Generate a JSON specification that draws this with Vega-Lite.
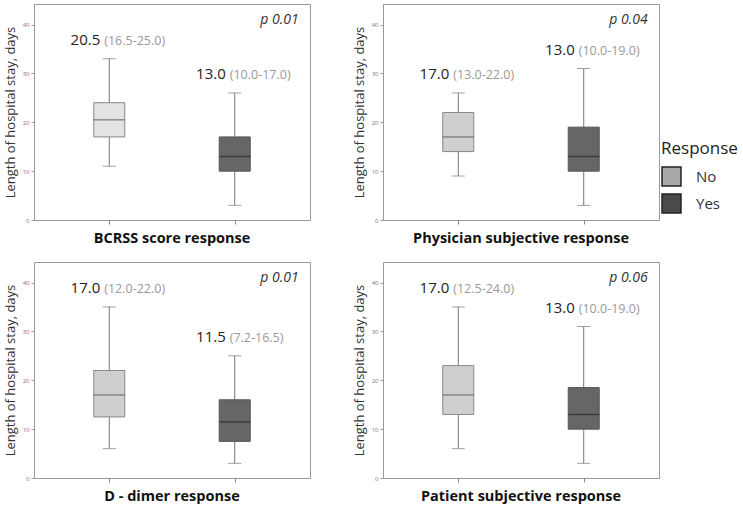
{
  "$schema": "https://vega.github.io/schema/vega-lite/v6.json",
  "padding": {"left": 3, "top": 3, "right": 5, "bottom": 5},
  "background": "white",
  "config": {
    "view": {"stroke": "#999", "strokeWidth": 1},
    "font": "Open Sans"
  },
  "data": {
    "values": [
      {"panel": "BCRSS score response", "Response": "No", "low": 11, "q1": 17, "median": 20.5, "q3": 24, "high": 33, "iqr": "(16.5-25.0)", "p": "p 0.01"},
      {"panel": "BCRSS score response", "Response": "Yes", "low": 3, "q1": 10, "median": 13, "q3": 17, "high": 26, "iqr": "(10.0-17.0)", "p": "p 0.01"},
      {"panel": "Physician subjective response", "Response": "No", "low": 9, "q1": 14, "median": 17, "q3": 22, "high": 26, "iqr": "(13.0-22.0)", "p": "p 0.04"},
      {"panel": "Physician subjective response", "Response": "Yes", "low": 3, "q1": 10, "median": 13, "q3": 19, "high": 31, "iqr": "(10.0-19.0)", "p": "p 0.04"},
      {"panel": "D - dimer response", "Response": "No", "low": 6, "q1": 12.5, "median": 17, "q3": 22, "high": 35, "iqr": "(12.0-22.0)", "p": "p 0.01"},
      {"panel": "D - dimer response", "Response": "Yes", "low": 3, "q1": 7.5, "median": 11.5, "q3": 16, "high": 25, "iqr": "(7.2-16.5)", "p": "p 0.01"},
      {"panel": "Patient subjective response", "Response": "No", "low": 6, "q1": 13, "median": 17, "q3": 23, "high": 35, "iqr": "(12.5-24.0)", "p": "p 0.06"},
      {"panel": "Patient subjective response", "Response": "Yes", "low": 3, "q1": 10, "median": 13, "q3": 18.5, "high": 31, "iqr": "(10.0-19.0)", "p": "p 0.06"}
    ]
  },
  "facet": {
    "field": "panel",
    "type": "nominal",
    "sort": ["BCRSS score response", "Physician subjective response", "D - dimer response", "Patient subjective response"],
    "header": {
      "title": null,
      "labelOrient": "bottom",
      "labelFont": "Open Sans",
      "labelFontSize": 14.5,
      "labelFontWeight": "bold",
      "labelColor": "#111",
      "labelPadding": 7
    }
  },
  "columns": 2,
  "spacing": {"row": 15, "column": 41},
  "resolve": {"axis": {"x": "independent", "y": "independent"}},
  "spec": {
    "width": 276,
    "height": 216,
    "encoding": {
      "x": {
        "field": "Response",
        "type": "nominal",
        "scale": {"type": "point", "padding": 0.6},
        "axis": {"title": null, "labels": false, "domain": false, "ticks": true, "tickSize": 4, "tickColor": "#888"}
      }
    },
    "layer": [
      {
        "mark": {"type": "rule", "color": "#777", "strokeWidth": 1},
        "encoding": {
          "y": {
            "field": "low",
            "type": "quantitative",
            "scale": {"domain": [0, 44.2], "nice": false},
            "axis": {
              "title": "Length of hospital stay, days",
              "titleFont": "Open Sans",
              "titleFontSize": 13,
              "titleFontWeight": "normal",
              "titleColor": "#333",
              "titlePadding": 5,
              "labelFontSize": 6,
              "labelColor": "#777",
              "tickSize": 3,
              "tickColor": "#999",
              "domain": false,
              "grid": false,
              "values": [0, 10, 20, 30, 40]
            }
          },
          "y2": {"field": "high"}
        }
      },
      {
        "mark": {"type": "tick", "orient": "horizontal", "size": 13, "thickness": 1, "color": "#777"},
        "encoding": {"y": {"field": "low", "type": "quantitative"}}
      },
      {
        "mark": {"type": "tick", "orient": "horizontal", "size": 13, "thickness": 1, "color": "#777"},
        "encoding": {"y": {"field": "high", "type": "quantitative"}}
      },
      {
        "mark": {"type": "bar", "width": 31, "strokeWidth": 1},
        "encoding": {
          "y": {"field": "q1", "type": "quantitative"},
          "y2": {"field": "q3"},
          "fill": {
            "field": "Response",
            "type": "nominal",
            "scale": {"domain": ["No", "Yes"], "range": ["#aaa8a8", "#4a4a4a"]},
            "condition": [
              {"test": "datum.panel === 'BCRSS score response' && datum.Response === 'No'", "value": "#e3e3e3"},
              {"test": "datum.Response === 'No'", "value": "#cfcfcf"},
              {"test": "datum.Response === 'Yes'", "value": "#666666"}
            ],
            "legend": {
              "title": "Response",
              "orient": "none",
              "legendX": 627,
              "legendY": 137,
              "titleFont": "Open Sans",
              "titleFontSize": 17,
              "titleFontWeight": "normal",
              "titleColor": "#222",
              "labelFont": "Open Sans",
              "labelFontSize": 15,
              "labelColor": "#333",
              "labelOffset": 14,
              "symbolType": "square",
              "symbolSize": 360,
              "symbolStrokeColor": "#222",
              "symbolStrokeWidth": 1.5,
              "symbolOpacity": 1,
              "rowPadding": 2,
              "titlePadding": 8
            }
          },
          "stroke": {"condition": {"test": "datum.Response === 'Yes'", "value": "#555"}, "value": "#888"}
        }
      },
      {
        "mark": {"type": "tick", "orient": "horizontal", "size": 31, "thickness": 1.5},
        "encoding": {
          "y": {"field": "median", "type": "quantitative"},
          "color": {"condition": {"test": "datum.Response === 'Yes'", "value": "#2a2a2a"}, "value": "#666"}
        }
      },
      {
        "mark": {"type": "text", "align": "right", "baseline": "middle", "dx": -9, "dy": -19, "fontSize": 15, "color": "#222", "font": "Open Sans"},
        "encoding": {
          "y": {"field": "high", "type": "quantitative"},
          "text": {"field": "median", "type": "quantitative", "format": ".1f"}
        }
      },
      {
        "mark": {"type": "text", "align": "left", "baseline": "middle", "dx": -5, "dy": -18, "fontSize": 12.5, "color": "#999", "font": "Open Sans"},
        "encoding": {
          "y": {"field": "high", "type": "quantitative"},
          "text": {"field": "iqr", "type": "nominal"}
        }
      },
      {
        "transform": [{"filter": "datum.Response === 'No'"}],
        "mark": {"type": "text", "align": "right", "baseline": "middle", "dx": 64, "fontSize": 14, "fontStyle": "italic", "color": "#333", "font": "Open Sans"},
        "encoding": {
          "x": {"datum": "Yes"},
          "y": {"datum": 41},
          "text": {"field": "p", "type": "nominal"}
        }
      }
    ]
  }
}
